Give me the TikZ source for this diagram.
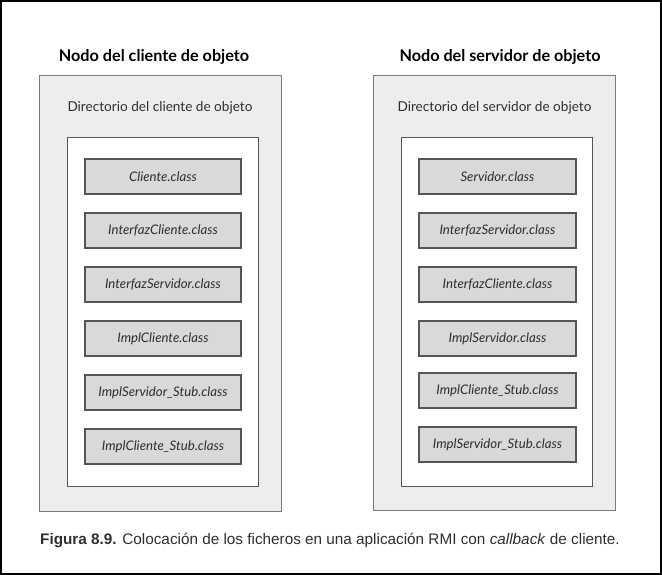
\documentclass[tikz,border=0pt]{standalone}
\usepackage{fontspec}
\setmainfont{Lato}
\newfontfamily\capfont{Liberation Sans}
\definecolor{outerfill}{HTML}{EDEDED}
\definecolor{outerline}{HTML}{7A7A7A}
\definecolor{classfill}{HTML}{D9D9D9}
\definecolor{classline}{HTML}{555555}
\definecolor{txt}{HTML}{2E2E2E}
\tikzset{
  outerbox/.style={draw=outerline, fill=outerfill, line width=1.3pt, anchor=north west, inner sep=0pt},
  innerbox/.style={draw=classline, fill=white, line width=1.1pt, anchor=north west, inner sep=0pt},
  classbox/.style={draw=classline, fill=classfill, line width=1.3pt, minimum height=35pt, inner sep=0pt, text=txt, font=\fontsize{13.2}{15}\selectfont\itshape},
  titlelbl/.style={text=black, font=\fontsize{16.2}{18}\selectfont\bfseries, inner sep=0pt},
  dirlbl/.style={text=txt, font=\fontsize{13.6}{16}\selectfont, inner sep=0pt},
}
\begin{document}
\begin{tikzpicture}[x=1pt,y=-1pt]
\useasboundingbox (0,0) rectangle (662,575);
\draw[line width=1.6pt] (0.8,0.8) rectangle (661.2,574.2);
% left node
\node[titlelbl] (ltitle) at (154,57) {Nodo del cliente de objeto};
\node[outerbox, minimum width=242pt, minimum height=436pt] (lnode) at (39,75) {};
\node[dirlbl] (ldir) at (160,108) {Directorio del cliente de objeto};
\node[innerbox, minimum width=191pt, minimum height=349pt] (ldirbox) at (67,137) {};
\node[classbox, minimum width=156pt] (l1) at (163,176.5) {Cliente.class};
\node[classbox, minimum width=156pt] (l2) at (163,230.5) {InterfazCliente.class};
\node[classbox, minimum width=156pt] (l3) at (163,284.5) {InterfazServidor.class};
\node[classbox, minimum width=156pt] (l4) at (163,338.5) {ImplCliente.class};
\node[classbox, minimum width=156pt] (l5) at (163,392.5) {ImplServidor\_Stub.class};
\node[classbox, minimum width=156pt] (l6) at (163,446.5) {ImplCliente\_Stub.class};
% right node
\node[titlelbl] (rtitle) at (500,57) {Nodo del servidor de objeto};
\node[outerbox, minimum width=242pt, minimum height=435pt] (rnode) at (373,75) {};
\node[dirlbl] (rdir) at (494.5,108) {Directorio del servidor de objeto};
\node[innerbox, minimum width=191pt, minimum height=349pt] (rdirbox) at (401,137) {};
\node[classbox, minimum width=157pt] (r1) at (497.5,176.5) {Servidor.class};
\node[classbox, minimum width=157pt] (r2) at (497.5,230.5) {InterfazServidor.class};
\node[classbox, minimum width=157pt] (r3) at (497.5,284.5) {InterfazCliente.class};
\node[classbox, minimum width=157pt] (r4) at (497.5,338.5) {ImplServidor.class};
\node[classbox, minimum width=157pt] (r5) at (497.5,390.5) {ImplCliente\_Stub.class};
\node[classbox, minimum width=157pt] (r6) at (497.5,444.5) {ImplServidor\_Stub.class};
% caption
\node[anchor=west, inner sep=0pt, text=txt, font=\capfont\fontsize{15.3}{17}\selectfont] (cap) at (40,540)
  {\textbf{Figura 8.9.} Colocación de los ficheros en una aplicación RMI con \textit{callback} de cliente.};
\end{tikzpicture}
\end{document}
